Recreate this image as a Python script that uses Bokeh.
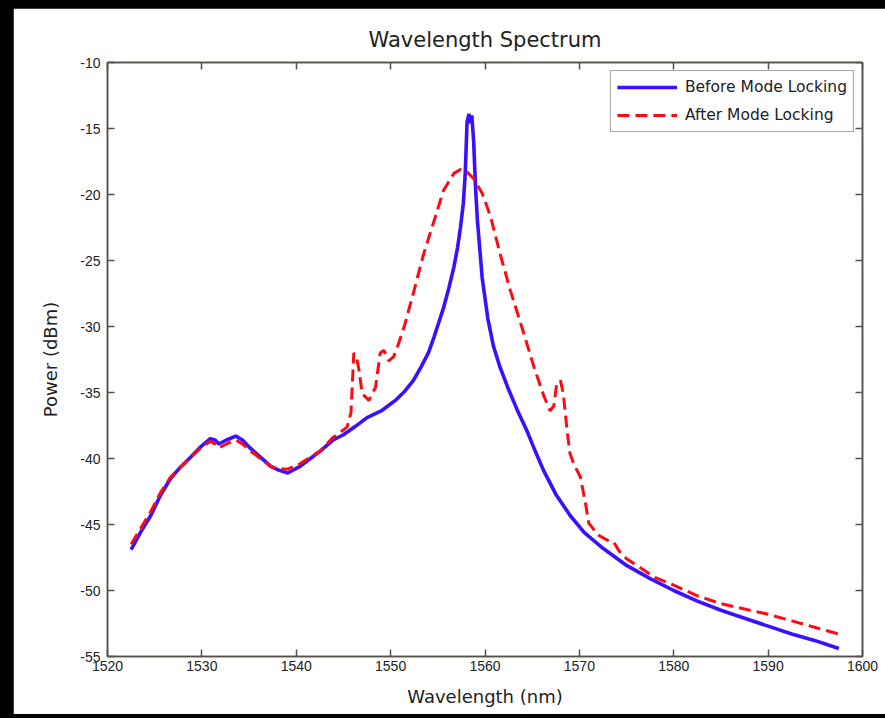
from bokeh.plotting import figure
from bokeh.models import (Range1d, FixedTicker, LinearAxis, Legend, LegendItem,
                          CustomJSTickFormatter)
from bokeh.embed import file_html
from bokeh.resources import INLINE

before_wl = [1522.5, 1523.5, 1524.6, 1525.6, 1526.7, 1527.8, 1528.8, 1529.9, 1530.9, 1531.4,
             1531.8, 1532.6, 1533.6, 1534.3, 1535.1, 1536.2, 1537.3, 1538.2, 1539.1, 1540.4,
             1541.5, 1542.6, 1543.9, 1545.0, 1546.2, 1547.5, 1549.0, 1550.5, 1551.5, 1552.4,
             1553.2, 1554.0, 1554.6, 1555.1, 1555.6, 1556.2, 1556.7, 1557.1, 1557.4, 1557.7,
             1557.9, 1558.1, 1558.3, 1558.45, 1558.6, 1558.8, 1559.0, 1559.2, 1559.7, 1560.3,
             1560.9, 1561.6, 1562.4, 1563.4, 1564.5, 1565.3, 1566.2, 1567.5, 1569.0, 1570.5,
             1572.5, 1575.0, 1577.5, 1580.0, 1582.5, 1585.0, 1587.5, 1590.0, 1592.5, 1595.0,
             1597.5]
before_db = [-46.9, -45.6, -44.3, -42.8, -41.5, -40.6, -39.9, -39.1, -38.5, -38.6,
             -38.9, -38.6, -38.3, -38.6, -39.2, -39.9, -40.6, -40.9, -41.1, -40.6,
             -40.0, -39.4, -38.6, -38.2, -37.6, -36.9, -36.4, -35.6, -34.9, -34.1,
             -33.1, -32.0, -30.8, -29.7, -28.6, -27.0, -25.5, -24.0, -22.5, -20.7,
             -18.5, -14.5, -13.9, -14.6, -14.0, -16.0, -19.5, -22.0, -26.3, -29.4,
             -31.5, -33.1, -34.6, -36.3, -38.0, -39.4, -40.9, -42.7, -44.3, -45.6,
             -46.8, -48.1, -49.1, -50.0, -50.8, -51.5, -52.1, -52.7, -53.3, -53.8,
             -54.4]

after_wl = [1522.5, 1523.5, 1524.6, 1525.6, 1526.7, 1527.8, 1528.8, 1529.9, 1530.9, 1531.4,
            1531.8, 1532.6, 1533.6, 1534.3, 1535.1, 1536.2, 1537.3, 1538.2, 1539.1, 1540.4,
            1541.5, 1542.6, 1543.9, 1544.7, 1545.4, 1545.8, 1546.1, 1546.4, 1546.6, 1547.0,
            1547.7, 1548.4, 1548.9, 1549.3, 1549.8, 1550.3, 1550.7, 1551.4, 1552.4, 1553.5,
            1554.6, 1555.6, 1556.7, 1557.4, 1558.1, 1558.8, 1559.7, 1560.6, 1561.6, 1562.7,
            1564.1, 1565.2, 1566.2, 1566.9, 1567.3, 1567.6, 1568.0, 1568.3, 1568.7, 1569.0,
            1569.4, 1570.1, 1570.6, 1571.0, 1572.0, 1573.0, 1573.6, 1574.2, 1575.0, 1576.5,
            1578.0, 1580.0, 1582.5, 1585.0, 1587.5, 1590.0, 1592.5, 1595.0, 1597.5]
after_db = [-46.5, -45.3, -44.0, -42.6, -41.4, -40.6, -39.9, -39.2, -38.7, -38.9,
            -39.2, -38.9, -38.6, -38.9, -39.4, -40.0, -40.6, -40.8, -40.8, -40.4,
            -39.9, -39.4, -38.4, -38.0, -37.6, -36.5, -32.0, -32.4, -33.1, -35.1,
            -35.6, -34.6, -32.0, -31.8, -32.6, -32.3, -31.6, -30.1, -27.5, -24.5,
            -22.0, -19.7, -18.4, -18.1, -18.3, -18.8, -19.9, -21.7, -24.5, -27.3,
            -30.5, -33.1, -35.2, -36.4, -36.0, -34.3, -34.1, -35.1, -37.9, -39.6,
            -40.4, -41.4, -43.2, -44.9, -45.8, -46.2, -46.3, -47.0, -47.6, -48.3,
            -49.0, -49.6, -50.4, -51.0, -51.4, -51.8, -52.3, -52.8, -53.3]

x_ticks = [1520, 1530, 1540, 1550, 1560, 1570, 1580, 1590, 1600]
y_ticks = [-55, -50, -45, -40, -35, -30, -25, -20, -15, -10]

TFONT = "Liberation Sans"
LFONT = "DejaVu Sans"
AX = "#55524a"
TXT = "#222222"

p = figure(width=872, height=706, output_backend="svg", toolbar_location=None,
           x_range=Range1d(1520, 1600), y_range=Range1d(-55, -10),
           min_border_left=94, min_border_right=23, min_border_top=54, min_border_bottom=58,
           background_fill_color="white", border_fill_color="white")

p.title.text = "Wavelength Spectrum"
p.title.align = "center"
p.title.text_font = LFONT
p.title.text_font_style = "normal"
p.title.text_font_size = "21px"
p.title.text_color = TXT
p.title.offset = 0
p.title.standoff = 21

p.xgrid.visible = False
p.ygrid.visible = False
p.outline_line_color = AX
p.outline_line_width = 1.5

def style_axis(ax):
    ax.axis_line_color = AX
    ax.axis_line_width = 1.5
    ax.major_tick_line_color = AX
    ax.major_tick_line_width = 1.5
    ax.major_tick_in = 7
    ax.major_tick_out = 0
    ax.minor_tick_line_color = None
    ax.major_label_text_font = TFONT
    ax.major_label_text_font_size = "14px"
    ax.major_label_text_color = TXT
    ax.axis_label_text_font = LFONT
    ax.axis_label_text_font_style = "normal"
    ax.axis_label_text_font_size = "18px"
    ax.axis_label_text_color = TXT

p.xaxis.ticker = FixedTicker(ticks=x_ticks)
p.yaxis.ticker = FixedTicker(ticks=y_ticks)
p.yaxis.formatter = CustomJSTickFormatter(code="return tick.toFixed(0);")
p.xaxis.axis_label = "Wavelength (nm)"
p.yaxis.axis_label = "Power (dBm)"
style_axis(p.xaxis[0])
style_axis(p.yaxis[0])
p.xaxis.major_label_standoff = 4
p.yaxis.major_label_standoff = 7
p.xaxis.axis_label_standoff = 12
p.yaxis.axis_label_standoff = 16

blank = CustomJSTickFormatter(code="return '';")
top_ax = LinearAxis(ticker=FixedTicker(ticks=x_ticks), formatter=blank)
right_ax = LinearAxis(ticker=FixedTicker(ticks=y_ticks), formatter=blank)
style_axis(top_ax)
style_axis(right_ax)
top_ax.major_label_standoff = 0
right_ax.major_label_standoff = 0
p.add_layout(top_ax, "above")
p.add_layout(right_ax, "right")

r_before = p.line(before_wl, before_db, line_color="#3a10ff", line_width=3.6)
r_after = p.line(after_wl, after_db, line_color="#ff0a14", line_width=3,
                 line_dash="12 6")

legend = Legend(items=[LegendItem(label="Before Mode Locking", renderers=[r_before]),
                       LegendItem(label="After Mode Locking", renderers=[r_after])],
                location="top_right")
legend.margin = 8
legend.padding = 6
legend.spacing = 8
legend.glyph_width = 60
legend.glyph_height = 20
legend.label_height = 20
legend.label_standoff = 8
legend.label_text_font = LFONT
legend.label_text_font_size = "15.5px"
legend.label_text_color = TXT
legend.border_line_color = AX
legend.border_line_width = 1.5
legend.background_fill_color = "white"
legend.background_fill_alpha = 1.0
p.add_layout(legend, "center")

html = file_html(p, INLINE)
html = html.replace("</head>",
                    "<style>html{background:#000;}body{background:#000;margin:8px 0 0 13px;}</style></head>", 1)
open("out.html", "w").write(html)
